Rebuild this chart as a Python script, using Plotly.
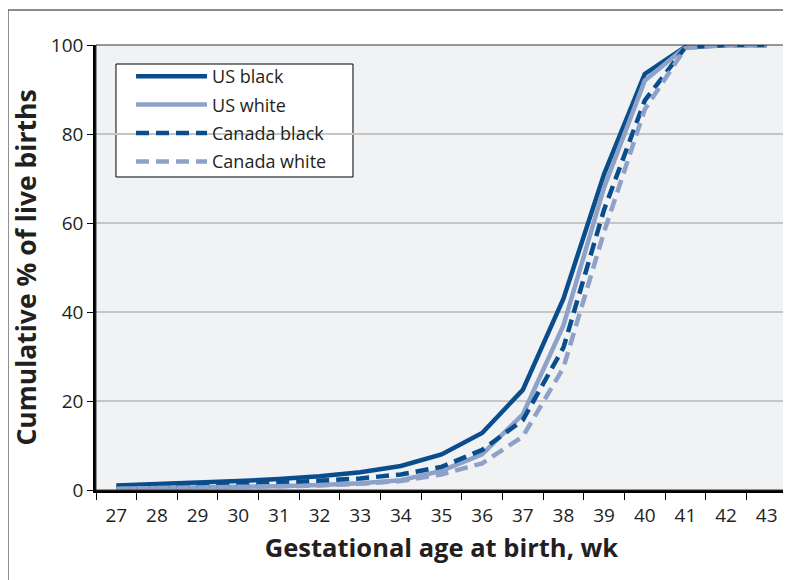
import plotly.graph_objects as go

weeks = [str(w) for w in range(27, 44)]
us_black = [1.0, 1.3, 1.6, 2.0, 2.5, 3.1, 4.0, 5.4, 8.0, 12.8, 22.5, 43.0, 71.0, 93.5, 99.6, 100, 100]
us_white = [0.3, 0.4, 0.5, 0.65, 0.85, 1.1, 1.5, 2.2, 4.3, 8.0, 17.0, 37.0, 68.0, 92.0, 99.5, 100, 100]
canada_black = [0.5, 0.7, 0.9, 1.2, 1.6, 2.0, 2.6, 3.5, 5.2, 9.0, 15.7, 32.0, 63.0, 87.5, 99.5, 100, 100]
canada_white = [0.3, 0.4, 0.5, 0.6, 0.8, 1.0, 1.4, 2.0, 3.5, 6.0, 12.0, 27.5, 58.0, 85.5, 99.3, 100, 100]

DARK = "#0a4d8c"
LIGHT = "#8ea2c8"
FONT = "Open Sans"
TXT = "#231f20"

series = [
    ("US black", us_black, DARK, "solid"),
    ("US white", us_white, LIGHT, "solid"),
    ("Canada black", canada_black, DARK, "13px,7px"),
    ("Canada white", canada_white, LIGHT, "13px,7px"),
]

fig = go.Figure()
for name, vals, color, dash in series:
    fig.add_trace(go.Scatter(
        x=weeks, y=vals, name=name, mode="lines", legendgroup=name,
        line=dict(color=color, width=4.5, dash=dash),
    ))

# page body adds an 8px offset, so figure is 783x572
fig.update_layout(
    width=783, height=572,
    margin=dict(l=88, r=4, t=37, b=90, autoexpand=False),
    paper_bgcolor="white",
    plot_bgcolor="#f1f2f4",
    font=dict(family=FONT, color=TXT),
    showlegend=True,
    legend=dict(
        x=0.0507, y=0.9708, xanchor="left", yanchor="top",
        bgcolor="rgba(0,0,0,0)", borderwidth=0,
        font=dict(family=FONT, size=18, color=TXT),
        tracegroupgap=2, traceorder="grouped",
        itemwidth=71,
    ),
    xaxis=dict(
        type="category", tickson="boundaries",
        ticks="outside", ticklen=7, tickcolor="black", tickwidth=1,
        ticklabelstandoff=6,
        showline=True, linecolor="black", linewidth=2.5,
        showgrid=False, zeroline=False,
        tickfont=dict(size=19, color=TXT),
        title=dict(text="<b>Gestational age at birth, wk</b>", font=dict(size=25.5, color=TXT), standoff=13),
        range=[-0.5, 16.5],
    ),
    yaxis=dict(
        range=[0, 100], tickvals=[0, 20, 40, 60, 80, 100],
        ticks="outside", ticklen=6, tickcolor="black", tickwidth=1,
        showline=True, linecolor="black", linewidth=2.5,
        showgrid=True, gridcolor="#c6c6c6", gridwidth=1.5,
        zeroline=False,
        tickfont=dict(size=19, color=TXT),
        title=dict(text="<b>Cumulative % of live births</b>", font=dict(size=26.5, color=TXT), standoff=8),
    ),
    shapes=[
        # legend box
        dict(type="rect", xref="paper", yref="paper", x0=0.0289, x1=0.3719, y0=0.7034, y1=0.9573,
             fillcolor="white", line=dict(color="black", width=1), layer="between"),
        # plot-area frame
        dict(type="rect", xref="paper", yref="paper", x0=0, x1=1, y0=0, y1=1,
             line=dict(color="#333333", width=1), layer="above"),
        # outer frame
        dict(type="rect", xref="paper", yref="paper", x0=-0.1274, x1=1.02, y0=-0.25, y1=1.0787,
             line=dict(color="#666666", width=1.5), layer="above"),
    ],
)

fig.write_html("out.html")
